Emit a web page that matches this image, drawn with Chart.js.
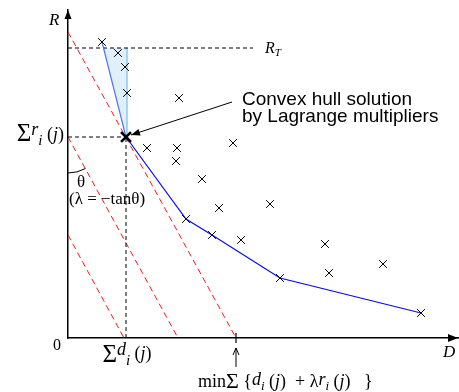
<!DOCTYPE html>
<html>
<head>
<meta charset="utf-8">
<script src="https://cdn.jsdelivr.net/npm/chart.js@4"></script>
<style>
  body { margin: 0; background: #fff; }
  #wrap { width: 459px; height: 392px; }
</style>
</head>
<body>
<div id="wrap"><canvas id="chart"></canvas></div>
<script>
// operating points (D = distortion, R = rate)
var pointD = [34, 50, 57, 59, 111, 79, 109, 108, 134, 165, 151, 202, 118, 144, 173, 257, 315, 261, 212, 353];
var pointR = [296, 285, 271, 245, 240, 190, 190, 177, 159, 195, 130, 134, 119, 103, 98, 94, 74, 65, 60, 25];

// lower convex hull
var hullD = [34, 58, 118, 144, 212, 353];
var hullR = [296, 201, 119, 103, 60, 25];

// Lagrangian solution and rate target
var solutionD = 58;
var solutionR = 201;
var targetR = 290;
var targetEndD = 185;

// lines of constant D + lambda*R (start on R axis, end on D axis)
var lambdaStartR = [306, 201, 103];
var lambdaEndD = [168, 110, 56];

var serif = "'Liberation Serif', 'DejaVu Serif', serif";
var sans = "'Liberation Sans', Arial, sans-serif";

function xy(d, r) {
  return d.map(function (v, i) { return { x: v, y: r[i] }; });
}

// where the first hull segment crosses R_T
var cutD = hullD[0] + (hullR[0] - targetR) / (hullR[0] - hullR[1]) * (hullD[1] - hullD[0]);

var datasets = [];

datasets.push({
  data: xy(pointD, pointR),
  pointStyle: "crossRot",
  pointRadius: 5.5,
  borderColor: "#000",
  backgroundColor: "#000",
  borderWidth: 1,
});
datasets.push({
  data: [{ x: solutionD, y: solutionR }],
  pointStyle: "crossRot",
  pointRadius: 7,
  borderColor: "#000",
  borderWidth: 2.6,
});
datasets.push({
  type: "line",
  data: xy(hullD, hullR),
  borderWidth: 1.2,
  borderColor: "#0a0aee",
  segment: {
    borderColor: function (c) { return c.p0DataIndex === 0 ? "#4a78e8" : "#0a0aee"; },
  },
  pointRadius: 0,
  fill: false,
});
// black dashed guides
var guides = [
  [[0, targetR], [targetEndD, targetR]],
  [[0, solutionR], [solutionD, solutionR]],
  [[solutionD, 0], [solutionD, solutionR]],
];
guides.forEach(function (g) {
  datasets.push({
    type: "line",
    data: [{ x: g[0][0], y: g[0][1] }, { x: g[1][0], y: g[1][1] }],
    borderColor: "#000",
    borderWidth: 1,
    borderDash: [4, 3],
    pointRadius: 0,
    fill: false,
  });
});
// shaded triangle above the solution
datasets.push({
  type: "line",
  data: [
    { x: solutionD + 1, y: solutionR },
    { x: solutionD + 1, y: targetR },
    { x: cutD, y: targetR },
    { x: solutionD + 1, y: solutionR },
  ],
  borderColor: "#8ccbe8",
  borderWidth: 1.5,
  segment: {
    borderColor: function (c) { return c.p0DataIndex === 0 ? "#8ccbe8" : "rgba(0,0,0,0)"; },
  },
  backgroundColor: "rgba(200,226,242,0.55)",
  fill: "shape",
  pointRadius: 0,
});
// red dashed lambda lines
lambdaStartR.forEach(function (r, i) {
  datasets.push({
    type: "line",
    data: [{ x: 0, y: r }, { x: lambdaEndD[i], y: 0 }],
    borderColor: "#f01818",
    borderWidth: 1,
    borderDash: [6, 4],
    pointRadius: 0,
    fill: false,
  });
});

function rich(ctx, x, y, parts, align) {
  var w = 0;
  parts.forEach(function (p) { ctx.font = p[1]; w += ctx.measureText(p[0]).width; });
  var cx = align === "right" ? x - w : align === "center" ? x - w / 2 : x;
  parts.forEach(function (p) {
    ctx.font = p[1];
    ctx.fillText(p[0], cx, y + (p[2] || 0));
    cx += ctx.measureText(p[0]).width;
  });
}

function tri(ctx, a, b, c) {
  ctx.beginPath();
  ctx.moveTo(a[0], a[1]);
  ctx.lineTo(b[0], b[1]);
  ctx.lineTo(c[0], c[1]);
  ctx.closePath();
  ctx.fill();
}

var notes = {
  id: "notes",
  afterDraw: function (chart) {
    var ctx = chart.ctx;
    var a = chart.chartArea;
    var X = function (v) { return chart.scales.x.getPixelForValue(v); };
    var Y = function (v) { return chart.scales.y.getPixelForValue(v); };
    ctx.save();
    ctx.fillStyle = "#000";
    ctx.strokeStyle = "#000";
    ctx.textBaseline = "alphabetic";

    // axis arrows
    tri(ctx, [a.right, a.bottom], [a.right - 10, a.bottom - 4], [a.right - 10, a.bottom + 4]);
    tri(ctx, [a.left, a.top], [a.left - 3.5, a.top + 9], [a.left + 3.5, a.top + 9]);

    // axis labels
    rich(ctx, a.left - 19, a.top + 15, [["R", "italic 17px " + serif]]);
    rich(ctx, a.right - 15, a.bottom + 19, [["D", "italic 17px " + serif]]);
    rich(ctx, a.left - 15, a.bottom + 12, [["0", "16px " + serif]]);

    // R_T
    var ty = Y(targetR);
    rich(ctx, X(targetEndD) + 12, ty + 5, [
      ["R", "italic 16px " + serif],
      ["T", "italic 11px " + serif, 3],
    ]);

    // sum r_i(j)
    var sx = X(solutionD), sy = Y(solutionR);
    rich(ctx, a.left - 4, sy + 3, [
      ["Σ", "25px " + serif, 1],
      ["r", "italic 18px " + serif, -5],
      ["i", "italic 15px " + serif, 5],
      [" (", "18px " + serif, 0],
      ["j", "italic 18px " + serif, 0],
      [")", "18px " + serif, 0],
    ], "right");

    // sum d_i(j)
    rich(ctx, sx + 1, a.bottom + 22, [
      ["Σ", "25px " + serif, 2],
      ["d", "italic 18px " + serif, -5],
      ["i", "italic 15px " + serif, 5],
      [" (", "18px " + serif, -1],
      ["j", "italic 18px " + serif, -1],
      [")", "18px " + serif, -1],
    ], "center");

    // theta arc
    var cy = Y(lambdaStartR[1]);
    var ang = Math.atan2(Y(0) - cy, X(lambdaEndD[1]) - a.left);
    ctx.lineWidth = 1;
    ctx.beginPath();
    ctx.arc(a.left, cy, 36, ang, Math.PI / 2);
    ctx.stroke();
    rich(ctx, a.left + 9, cy + 50, [["θ", "17px " + serif]]);
    rich(ctx, a.left + 1, cy + 67, [["(λ = −tanθ)", "17px " + serif]]);

    // min label with tick and arrow
    var mx = X(lambdaEndD[0]);
    ctx.lineWidth = 1.2;
    ctx.beginPath();
    ctx.moveTo(mx, a.bottom - 5);
    ctx.lineTo(mx, a.bottom + 5);
    ctx.stroke();
    ctx.lineWidth = 1;
    ctx.beginPath();
    ctx.moveTo(mx, a.bottom + 29);
    ctx.lineTo(mx, a.bottom + 10);
    ctx.moveTo(mx - 3, a.bottom + 17);
    ctx.lineTo(mx, a.bottom + 10);
    ctx.lineTo(mx + 3, a.bottom + 17);
    ctx.stroke();
    rich(ctx, mx - 38, a.bottom + 49, [
      ["min", "18px " + serif],
      ["Σ", "22px " + serif, 1],
      [" {", "18px " + serif],
      ["d", "italic 18px " + serif, -2],
      ["i", "italic 13px " + serif, 3],
      [" (", "18px " + serif],
      ["j", "italic 18px " + serif],
      [")  + ", "18px " + serif],
      ["λ", "18px " + serif],
      ["r", "italic 18px " + serif, -2],
      ["i", "italic 13px " + serif, 3],
      [" (", "18px " + serif],
      ["j", "italic 18px " + serif],
      [")   }", "18px " + serif],
    ]);

    // callout
    var tx = 242, tyy = 105;
    ctx.font = "19px " + sans;
    ctx.fillText("Convex hull solution", tx, tyy);
    ctx.fillText("by Lagrange multipliers", tx, tyy + 17);
    var ex = sx + 5, ey = sy - 2;
    var bx = tx - 10, by = tyy - 3;
    ctx.lineWidth = 1;
    ctx.beginPath();
    ctx.moveTo(bx, by);
    ctx.lineTo(ex, ey);
    ctx.stroke();
    var t = Math.atan2(ey - by, ex - bx);
    var L = 9, W = 3.5;
    tri(ctx, [ex, ey],
      [ex - L * Math.cos(t) + W * Math.sin(t), ey - L * Math.sin(t) - W * Math.cos(t)],
      [ex - L * Math.cos(t) - W * Math.sin(t), ey - L * Math.sin(t) + W * Math.cos(t)]);
    ctx.restore();
  },
};

new Chart(document.getElementById("chart"), {
  type: "scatter",
  data: { datasets: datasets },
  options: {
    responsive: true,
    maintainAspectRatio: false,
    animation: false,
    layout: { autoPadding: false, padding: { left: 68, top: 10, right: 1, bottom: 54 } },
    plugins: { legend: { display: false }, tooltip: { enabled: false } },
    scales: {
      x: {
        type: "linear",
        min: 0,
        max: 390,
        grid: { display: false, drawTicks: false },
        ticks: { display: false },
        border: { display: true, color: "#000", width: 1.5 },
      },
      y: {
        type: "linear",
        min: 0,
        max: 328,
        grid: { display: false, drawTicks: false },
        ticks: { display: false },
        border: { display: true, color: "#000", width: 1.5 },
      },
    },
  },
  plugins: [notes],
});
</script>
</body>
</html>
